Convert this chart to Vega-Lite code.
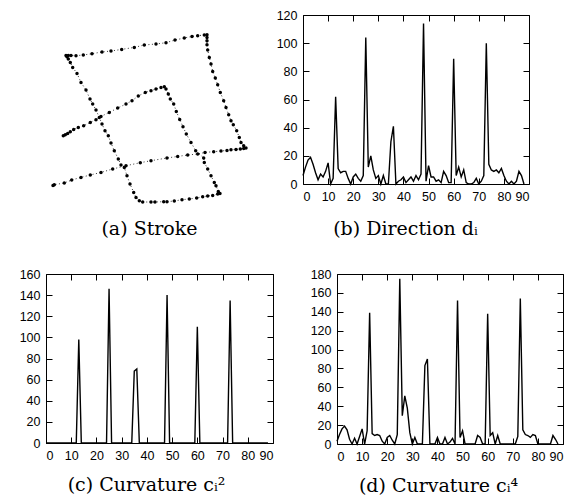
{
  "$schema": "https://vega.github.io/schema/vega-lite/v6.json",
  "padding": {"left": 18, "top": 8, "right": 5, "bottom": 5},
  "autosize": {"type": "pad"},
  "bounds": "flush",
  "spacing": 259,
  "background": "white",
  "config": {
    "view": {"stroke": "black", "strokeWidth": 1},
    "axis": {
      "domain": false, "grid": false, "tickSize": -6, "tickColor": "black", "tickWidth": 1,
      "labelFont": "Liberation Sans", "labelFontSize": 12.5, "labelColor": "black", "labelPadding": 12,
      "titleFont": "DejaVu Serif", "titleFontSize": 19, "titleFontWeight": "normal", "titleColor": "black",
      "titleAlign": "center", "titleBaseline": "alphabetic"
    },
    "line": {"color": "black", "strokeWidth": 1.4}
  },
  "datasets": {
    "stroke": [
      {"k":0,"px":62.3,"py":135},{"k":1,"px":64.3,"py":134},{"k":2,"px":66.7,"py":132.7},{"k":3,"px":69.3,"py":131},{"k":4,"px":72.7,"py":128.7},{"k":5,"px":77.3,"py":126.7},{"k":6,"px":82.7,"py":125},{"k":7,"px":89.3,"py":121.7},{"k":8,"px":95,"py":119},{"k":9,"px":100,"py":115.7},{"k":10,"px":108.3,"py":111.7},{"k":11,"px":116.7,"py":107.3},{"k":12,"px":125,"py":103.3},{"k":13,"px":131,"py":100},{"k":14,"px":137.3,"py":95.3},{"k":15,"px":144.3,"py":91.7},{"k":16,"px":150,"py":90},{"k":17,"px":155,"py":88.3},{"k":18,"px":160,"py":86.7},{"k":19,"px":163.3,"py":86},
      {"k":20,"px":165,"py":88.3},{"k":21,"px":167.3,"py":93.3},{"k":22,"px":169.3,"py":98.3},{"k":23,"px":172.7,"py":103.3},{"k":24,"px":175.3,"py":110.7},{"k":25,"px":178.7,"py":118.7},{"k":26,"px":182,"py":126},{"k":27,"px":185.3,"py":133.3},{"k":28,"px":190,"py":141.7},{"k":29,"px":194.7,"py":150},{"k":30,"px":202.7,"py":157.3},{"k":31,"px":203.3,"py":161.7},{"k":32,"px":206.7,"py":168.3},{"k":33,"px":210,"py":175},{"k":34,"px":213.3,"py":181.7},{"k":35,"px":215,"py":185},{"k":36,"px":217.3,"py":190.7},{"k":37,"px":219,"py":192.7},
      {"k":38,"px":216.7,"py":193.3},{"k":39,"px":211.7,"py":194.7},{"k":40,"px":206.7,"py":195.3},{"k":41,"px":201.7,"py":196},{"k":42,"px":195.7,"py":197.3},{"k":43,"px":188.3,"py":198.3},{"k":44,"px":181,"py":199},{"k":45,"px":173.3,"py":200.3},{"k":46,"px":166,"py":201},{"k":47,"px":162.7,"py":201},{"k":48,"px":154,"py":201.3},{"k":49,"px":150,"py":201.3},{"k":50,"px":141.7,"py":201.3},{"k":51,"px":138.3,"py":200},
      {"k":52,"px":135,"py":196.7},{"k":53,"px":132.7,"py":191.7},{"k":54,"px":129,"py":183.3},{"k":55,"px":126,"py":175},{"k":56,"px":123.3,"py":166.7},{"k":57,"px":120,"py":164.3},{"k":58,"px":117.3,"py":158.3},{"k":59,"px":113.3,"py":150},{"k":60,"px":110,"py":142.3},{"k":61,"px":107.3,"py":135},{"k":62,"px":104,"py":130},{"k":63,"px":101,"py":123.3},{"k":64,"px":98.3,"py":116.7},{"k":65,"px":95,"py":109.3},{"k":66,"px":91.7,"py":103.3},{"k":67,"px":89,"py":98.3},{"k":68,"px":85,"py":89.3},{"k":69,"px":80,"py":81.7},{"k":70,"px":76,"py":72.7},{"k":71,"px":71.7,"py":66.7},{"k":72,"px":69.3,"py":61.7},{"k":73,"px":67.3,"py":58.3},{"k":74,"px":66,"py":56},{"k":75,"px":65,"py":54.7},
      {"k":76,"px":67.3,"py":54.7},{"k":77,"px":70,"py":54.7},{"k":78,"px":75,"py":55},{"k":79,"px":82.3,"py":54.3},{"k":80,"px":91,"py":53},{"k":81,"px":101,"py":51.3},{"k":82,"px":110,"py":50.3},{"k":83,"px":120.7,"py":48.7},{"k":84,"px":133.3,"py":46.7},{"k":85,"px":143.3,"py":44.3},{"k":86,"px":155,"py":43.3},{"k":87,"px":165,"py":42},{"k":88,"px":174,"py":39.3},{"k":89,"px":183.3,"py":37.3},{"k":90,"px":191,"py":35.7},{"k":91,"px":196.7,"py":35},{"k":92,"px":203.3,"py":34.3},{"k":93,"px":206,"py":34},
      {"k":94,"px":206,"py":36.7},{"k":95,"px":206,"py":40},{"k":96,"px":206,"py":44},{"k":97,"px":206.7,"py":49.3},{"k":98,"px":208.3,"py":56.7},{"k":99,"px":210,"py":63.3},{"k":100,"px":211.7,"py":70.7},{"k":101,"px":214.3,"py":77.3},{"k":102,"px":216.7,"py":84},{"k":103,"px":219.3,"py":91.7},{"k":104,"px":222.7,"py":100},{"k":105,"px":225,"py":106.7},{"k":106,"px":227.7,"py":114},{"k":107,"px":230,"py":120},{"k":108,"px":232.3,"py":124},{"k":109,"px":235.7,"py":130},{"k":110,"px":238.3,"py":136.7},{"k":111,"px":240,"py":141.7},{"k":112,"px":242.7,"py":145},{"k":113,"px":245,"py":147.3},
      {"k":114,"px":242.7,"py":147.7},{"k":115,"px":239.3,"py":148.3},{"k":116,"px":235,"py":148.7},{"k":117,"px":230,"py":149},{"k":118,"px":226,"py":149.7},{"k":119,"px":220,"py":150.3},{"k":120,"px":212.7,"py":151},{"k":121,"px":204,"py":151.7},{"k":122,"px":196.7,"py":153.3},{"k":123,"px":186.7,"py":154.3},{"k":124,"px":176.7,"py":155.7},{"k":125,"px":166,"py":157.3},{"k":126,"px":150,"py":160},{"k":127,"px":139.3,"py":162},{"k":128,"px":125,"py":165},{"k":129,"px":111.7,"py":168.3},{"k":130,"px":100,"py":171.7},{"k":131,"px":89.3,"py":174.3},{"k":132,"px":80,"py":176.7},{"k":133,"px":70.7,"py":179.3},{"k":134,"px":63.3,"py":182.3},{"k":135,"px":53.3,"py":184},{"k":136,"px":52,"py":184.7}
    ],
    "direction": [
      {"i":0,"v":6},{"i":1,"v":12},{"i":2,"v":17},{"i":3,"v":19},{"i":4,"v":14},{"i":5,"v":8},{"i":6,"v":3},{"i":7,"v":7},{"i":8,"v":5},{"i":9,"v":9},{"i":10,"v":15},{"i":11,"v":0},{"i":12,"v":4},{"i":13,"v":62},{"i":14,"v":11},{"i":15,"v":8},{"i":16,"v":9},{"i":17,"v":9},{"i":18,"v":4},{"i":19,"v":0},{"i":20,"v":5},{"i":21,"v":7},{"i":22,"v":4},{"i":23,"v":2},{"i":24,"v":6},{"i":25,"v":104},{"i":26,"v":12},{"i":27,"v":20},{"i":28,"v":10},{"i":29,"v":4},{"i":30,"v":6},{"i":31,"v":0},{"i":32,"v":6},{"i":33,"v":0},{"i":34,"v":0},{"i":35,"v":30},{"i":36,"v":41},{"i":37,"v":0},{"i":38,"v":2},{"i":39,"v":3},{"i":40,"v":5},{"i":41,"v":1},{"i":42,"v":3},{"i":43,"v":5},{"i":44,"v":2},{"i":45,"v":6},{"i":46,"v":3},{"i":47,"v":7},{"i":48,"v":114},{"i":49,"v":2},{"i":50,"v":13},{"i":51,"v":5},{"i":52,"v":5},{"i":53,"v":2},{"i":54,"v":3},{"i":55,"v":1},{"i":56,"v":9},{"i":57,"v":6},{"i":58,"v":1},{"i":59,"v":1},{"i":60,"v":89},{"i":61,"v":6},{"i":62,"v":12},{"i":63,"v":5},{"i":64,"v":10},{"i":65,"v":1},{"i":66,"v":0},{"i":67,"v":0},{"i":68,"v":1},{"i":69,"v":4},{"i":70,"v":0},{"i":71,"v":2},{"i":72,"v":6},{"i":73,"v":100},{"i":74,"v":14},{"i":75,"v":10},{"i":76,"v":9},{"i":77,"v":10},{"i":78,"v":8},{"i":79,"v":11},{"i":80,"v":6},{"i":81,"v":2},{"i":82,"v":0},{"i":83,"v":2},{"i":84,"v":0},{"i":85,"v":2},{"i":86,"v":9},{"i":87,"v":6},{"i":88,"v":0}
    ],
    "curv2": [
      {"i":0,"v":0},{"i":1,"v":0},{"i":2,"v":0},{"i":3,"v":0},{"i":4,"v":0},{"i":5,"v":0},{"i":6,"v":0},{"i":7,"v":0},{"i":8,"v":0},{"i":9,"v":0},{"i":10,"v":0},{"i":11,"v":0},{"i":12,"v":0},{"i":13,"v":98},{"i":14,"v":0},{"i":15,"v":0},{"i":16,"v":0},{"i":17,"v":0},{"i":18,"v":0},{"i":19,"v":0},{"i":20,"v":0},{"i":21,"v":0},{"i":22,"v":0},{"i":23,"v":0},{"i":24,"v":0},{"i":25,"v":146},{"i":26,"v":0},{"i":27,"v":0},{"i":28,"v":0},{"i":29,"v":0},{"i":30,"v":0},{"i":31,"v":0},{"i":32,"v":0},{"i":33,"v":0},{"i":34,"v":0},{"i":35,"v":68},{"i":36,"v":70},{"i":37,"v":0},{"i":38,"v":0},{"i":39,"v":0},{"i":40,"v":0},{"i":41,"v":0},{"i":42,"v":0},{"i":43,"v":0},{"i":44,"v":0},{"i":45,"v":0},{"i":46,"v":0},{"i":47,"v":0},{"i":48,"v":140},{"i":49,"v":0},{"i":50,"v":0},{"i":51,"v":0},{"i":52,"v":0},{"i":53,"v":0},{"i":54,"v":0},{"i":55,"v":0},{"i":56,"v":0},{"i":57,"v":0},{"i":58,"v":0},{"i":59,"v":0},{"i":60,"v":110},{"i":61,"v":0},{"i":62,"v":0},{"i":63,"v":0},{"i":64,"v":0},{"i":65,"v":0},{"i":66,"v":0},{"i":67,"v":0},{"i":68,"v":0},{"i":69,"v":0},{"i":70,"v":0},{"i":71,"v":0},{"i":72,"v":0},{"i":73,"v":135},{"i":74,"v":0},{"i":75,"v":0},{"i":76,"v":0},{"i":77,"v":0},{"i":78,"v":0},{"i":79,"v":0},{"i":80,"v":0},{"i":81,"v":0},{"i":82,"v":0},{"i":83,"v":0},{"i":84,"v":0},{"i":85,"v":0},{"i":86,"v":0},{"i":87,"v":0},{"i":88,"v":0}
    ],
    "curv4": [
      {"i":0,"v":3},{"i":1,"v":10},{"i":2,"v":16},{"i":3,"v":19},{"i":4,"v":15},{"i":5,"v":5},{"i":6,"v":0},{"i":7,"v":6},{"i":8,"v":0},{"i":9,"v":8},{"i":10,"v":16},{"i":11,"v":0},{"i":12,"v":14},{"i":13,"v":139},{"i":14,"v":11},{"i":15,"v":9},{"i":16,"v":10},{"i":17,"v":9},{"i":18,"v":3},{"i":19,"v":0},{"i":20,"v":7},{"i":21,"v":9},{"i":22,"v":4},{"i":23,"v":0},{"i":24,"v":10},{"i":25,"v":175},{"i":26,"v":30},{"i":27,"v":51},{"i":28,"v":38},{"i":29,"v":12},{"i":30,"v":0},{"i":31,"v":7},{"i":32,"v":0},{"i":33,"v":0},{"i":34,"v":0},{"i":35,"v":83},{"i":36,"v":90},{"i":37,"v":0},{"i":38,"v":0},{"i":39,"v":0},{"i":40,"v":7},{"i":41,"v":0},{"i":42,"v":0},{"i":43,"v":7},{"i":44,"v":0},{"i":45,"v":2},{"i":46,"v":6},{"i":47,"v":0},{"i":48,"v":152},{"i":49,"v":7},{"i":50,"v":14},{"i":51,"v":0},{"i":52,"v":0},{"i":53,"v":0},{"i":54,"v":0},{"i":55,"v":0},{"i":56,"v":9},{"i":57,"v":7},{"i":58,"v":0},{"i":59,"v":0},{"i":60,"v":138},{"i":61,"v":9},{"i":62,"v":12},{"i":63,"v":0},{"i":64,"v":9},{"i":65,"v":0},{"i":66,"v":0},{"i":67,"v":0},{"i":68,"v":0},{"i":69,"v":0},{"i":70,"v":0},{"i":71,"v":0},{"i":72,"v":8},{"i":73,"v":154},{"i":74,"v":15},{"i":75,"v":10},{"i":76,"v":9},{"i":77,"v":7},{"i":78,"v":10},{"i":79,"v":9},{"i":80,"v":0},{"i":81,"v":0},{"i":82,"v":0},{"i":83,"v":0},{"i":84,"v":0},{"i":85,"v":0},{"i":86,"v":9},{"i":87,"v":5},{"i":88,"v":0}
    ]
  },
  "vconcat": [
    {
      "bounds": "flush",
      "spacing": 30,
      "hconcat": [
        {
          "width": 227, "height": 169,
          "view": {"stroke": null},
          "data": {"name": "stroke"},
          "layer": [
            {
              "mark": {"type": "line", "color": "black", "strokeWidth": 0.8, "strokeDash": [1, 2.5]},
              "encoding": {
                "x": {"field": "px", "type": "quantitative", "scale": {"domain": [45, 272], "nice": false, "zero": false},
                      "axis": {"title": "(a) Stroke", "domain": false, "ticks": false, "labels": false, "grid": false, "titleX": 103, "titleY": 50}},
                "y": {"field": "py", "type": "quantitative", "scale": {"domain": [14.3, 183.3], "nice": false, "zero": false, "reverse": true}, "axis": null},
                "order": {"field": "k"}
              }
            },
            {
              "mark": {"type": "circle", "color": "black", "size": 12, "opacity": 1},
              "encoding": {
                "x": {"field": "px", "type": "quantitative"},
                "y": {"field": "py", "type": "quantitative"}
              }
            }
          ]
        },
        {
          "width": 226, "height": 169,
          "data": {"name": "direction"},
          "layer": [
            {
              "mark": {"type": "line"},
              "encoding": {
                "x": {"field": "i", "type": "quantitative", "scale": {"domain": [0, 90], "nice": false},
                      "axis": {"orient": "bottom", "values": [0,10,20,30,40,50,60,70,80,90], "title": "(b) Direction dᵢ", "titleX": 102, "titleY": 50}},
                "y": {"field": "v", "type": "quantitative", "scale": {"domain": [0, 120], "nice": false},
                      "axis": {"orient": "left", "values": [0,20,40,60,80,100,120], "title": null}}
              }
            },
            {
              "mark": {"type": "line", "strokeOpacity": 0},
              "encoding": {
                "x": {"field": "i", "type": "quantitative", "axis": {"orient": "top", "values": [0,10,20,30,40,50,60,70,80,90], "labels": false, "title": null}},
                "y": {"field": "v", "type": "quantitative", "axis": {"orient": "right", "values": [0,20,40,60,80,100,120], "labels": false, "title": null}}
              }
            }
          ],
          "resolve": {"axis": {"x": "independent", "y": "independent"}}
        }
      ]
    },
    {
      "bounds": "flush",
      "spacing": 64,
      "hconcat": [
        {
          "width": 227, "height": 169,
          "data": {"name": "curv2"},
          "layer": [
            {
              "mark": {"type": "line"},
              "encoding": {
                "x": {"field": "i", "type": "quantitative", "scale": {"domain": [0, 90], "nice": false},
                      "axis": {"orient": "bottom", "values": [0,10,20,30,40,50,60,70,80,90], "title": "(c) Curvature cᵢ²", "titleX": 100, "titleY": 47}},
                "y": {"field": "v", "type": "quantitative", "scale": {"domain": [0, 160], "nice": false},
                      "axis": {"orient": "left", "values": [0,20,40,60,80,100,120,140,160], "title": null}}
              }
            },
            {
              "mark": {"type": "line", "strokeOpacity": 0},
              "encoding": {
                "x": {"field": "i", "type": "quantitative", "axis": {"orient": "top", "values": [0,10,20,30,40,50,60,70,80,90], "labels": false, "title": null}},
                "y": {"field": "v", "type": "quantitative", "axis": {"orient": "right", "values": [0,20,40,60,80,100,120,140,160], "labels": false, "title": null}}
              }
            }
          ],
          "resolve": {"axis": {"x": "independent", "y": "independent"}}
        },
        {
          "width": 226, "height": 170,
          "data": {"name": "curv4"},
          "layer": [
            {
              "mark": {"type": "line"},
              "encoding": {
                "x": {"field": "i", "type": "quantitative", "scale": {"domain": [0, 90], "nice": false},
                      "axis": {"orient": "bottom", "values": [0,10,20,30,40,50,60,70,80,90], "title": "(d) Curvature cᵢ⁴", "titleX": 101, "titleY": 47}},
                "y": {"field": "v", "type": "quantitative", "scale": {"domain": [0, 180], "nice": false},
                      "axis": {"orient": "left", "values": [0,20,40,60,80,100,120,140,160,180], "title": null}}
              }
            },
            {
              "mark": {"type": "line", "strokeOpacity": 0},
              "encoding": {
                "x": {"field": "i", "type": "quantitative", "axis": {"orient": "top", "values": [0,10,20,30,40,50,60,70,80,90], "labels": false, "title": null}},
                "y": {"field": "v", "type": "quantitative", "axis": {"orient": "right", "values": [0,20,40,60,80,100,120,140,160,180], "labels": false, "title": null}}
              }
            }
          ],
          "resolve": {"axis": {"x": "independent", "y": "independent"}}
        }
      ]
    }
  ]
}
